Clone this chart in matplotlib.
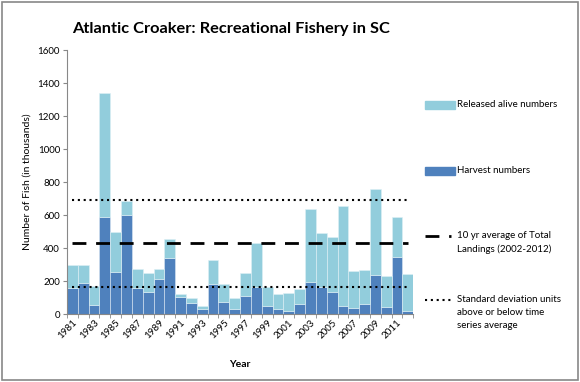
import numpy as np
import matplotlib.pyplot as plt
from matplotlib.lines import Line2D
from matplotlib.patches import Rectangle

years = list(range(1981, 2013))
harvest = [160, 188, 55, 585, 257, 598, 160, 136, 215, 342, 101, 69, 28, 182, 71, 33,
           109, 166, 49, 28, 18, 61, 194, 166, 136, 49, 38, 61, 235, 41, 346, 20]
total = [295, 298, 172, 1341, 497, 687, 272, 251, 272, 456, 124, 99, 49, 328, 180, 99,
         251, 433, 166, 122, 126, 154, 636, 490, 466, 654, 261, 267, 755, 229, 585, 241]
released = [t - h for t, h in zip(total, harvest)]
avg_10yr = 433
sd_upper = 691
sd_lower = 166

dark_blue = '#4F81BD'
light_blue = '#92CDDC'
dash_style = (0, (5, 3.5))
dot_style = (0, (1, 1.8))

plt.rcParams['font.family'] = ['Lato', 'DejaVu Sans']

W, H = 580, 382
fig = plt.figure(figsize=(W / 100, H / 100), dpi=100)
fig.patches.append(Rectangle((0.004, 0.006), 0.992, 0.988, transform=fig.transFigure,
                             fill=False, edgecolor='#888888', linewidth=1.2))
ax = fig.add_axes([0.1155, 0.178, 0.597, 0.691])

x = np.arange(len(years))
ax.bar(x, harvest, width=1.0, color=dark_blue, edgecolor='#dbe8f3', linewidth=0.4)
ax.bar(x, released, bottom=harvest, width=1.0, color=light_blue, edgecolor='#dff0f5', linewidth=0.4)
ax.plot(x, [avg_10yr] * len(x), color='black', linestyle=dash_style, linewidth=2)
ax.plot(x, [sd_upper] * len(x), color='black', linestyle=dot_style, linewidth=1.5)
ax.plot(x, [sd_lower] * len(x), color='black', linestyle=dot_style, linewidth=1.5)

ax.set_xlim(-0.5, len(years) - 0.5)
ax.set_ylim(0, 1600)
ax.set_yticks(range(0, 1601, 200))
ax.tick_params(axis='y', labelsize=7, length=3, color='#888888', pad=2)
ax.set_xticks(np.arange(-0.5, len(years), 1.0), minor=True)
ax.set_xticks(x[::2])
ax.set_xticklabels([str(y) for y in years[::2]], rotation=45, ha='right',
                   rotation_mode='anchor', fontsize=7)
ax.tick_params(axis='x', which='major', length=0, pad=3)
ax.tick_params(axis='x', which='minor', length=3, color='#888888')
for side in ['top', 'right']:
    ax.spines[side].set_visible(False)
for side in ['left', 'bottom']:
    ax.spines[side].set_color('#888888')

ax.set_ylabel('Number of Fish (in thousands)', fontsize=7.5, labelpad=4)
ax.set_xlabel('Year', fontsize=7.5, fontweight='bold', labelpad=14)
fig.text(0.124, 0.913, 'Atlantic Croaker: Recreational Fishery in SC',
         fontsize=11.8, fontweight='bold')

# legend placed by hand so multi-line labels line up with their first line
def fx(px):
    return px / W


def fy(py):
    return 1 - py / H


legend_rows = [
    ('patch', light_blue, 'Released alive numbers', 105),
    ('patch', dark_blue, 'Harvest numbers', 171),
    ('dash', None, '10 yr average of Total\nLandings (2002-2012)', 236),
    ('dot', None, 'Standard deviation units\nabove or below time\nseries average', 300),
]
for kind, color, label, py in legend_rows:
    if kind == 'patch':
        fig.patches.append(Rectangle((fx(425), fy(py + 3.5)), fx(30), 7 / H,
                                     transform=fig.transFigure, color=color))
    else:
        ls = dash_style if kind == 'dash' else dot_style
        lw = 2 if kind == 'dash' else 1.5
        fig.lines.append(Line2D([fx(425), fx(451)], [fy(py), fy(py)], transform=fig.transFigure,
                                color='black', linestyle=ls, linewidth=lw))
    fig.text(fx(457), fy(py - 5), label, fontsize=7, va='top', linespacing=1.55)

fig.savefig('out.png', dpi=100)
